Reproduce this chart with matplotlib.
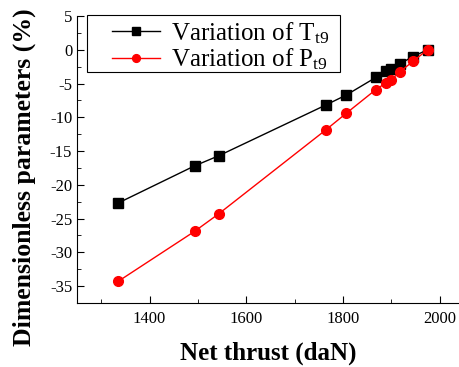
import matplotlib
matplotlib.use("Agg")
import matplotlib.pyplot as plt
from matplotlib.ticker import MultipleLocator
from matplotlib.patches import Rectangle

thrust = [1335, 1493, 1543, 1764, 1807, 1868, 1889, 1899, 1917, 1945, 1975]
var_T = [-22.7, -17.2, -15.7, -8.2, -6.7, -4.1, -3.2, -2.9, -2.1, -1.0, 0.0]
var_P = [-34.3, -26.9, -24.3, -11.9, -9.4, -5.9, -4.9, -4.5, -3.3, -1.7, 0.0]

plt.rcParams['font.family'] = ['Liberation Serif', 'DejaVu Serif']
plt.rcParams['mathtext.fontset'] = 'custom'
plt.rcParams['mathtext.rm'] = 'Liberation Serif'
plt.rcParams['mathtext.it'] = 'Liberation Serif:italic'
plt.rcParams['axes.unicode_minus'] = False

W, H = 459, 367
L, R, T, B = 77, 459, 16, 303
fig = plt.figure(figsize=(W/100, H/100), dpi=100)
ax = fig.add_axes([L/W, 1-B/H, (R-L)/W, (B-T)/H])

def ax_x(px):
    return (px - L) / (R - L)

def ax_y(py):
    return (B - py) / (B - T)

ax.plot(thrust, var_T, color='black', marker='s', markersize=6.5, lw=1,
        label=r'Variation of T$_{\mathregular{t9}}$')
ax.plot(thrust, var_P, color='red', marker='o', markersize=7, lw=1,
        label=r'Variation of P$_{\mathregular{t9}}$')

ax.set_xlim(1250, 2040)
ax.set_ylim(-37.5, 5)
ax.xaxis.set_major_locator(MultipleLocator(200))
ax.xaxis.set_minor_locator(MultipleLocator(100))
ax.yaxis.set_major_locator(MultipleLocator(5))
ax.yaxis.set_minor_locator(MultipleLocator(2.5))
ax.tick_params(which='both', direction='in', labelsize=12, top=False, right=False)
ax.tick_params(which='major', length=5)
ax.tick_params(which='minor', length=3)
ax.tick_params(axis='x', pad=6)
ax.spines['top'].set_visible(False)
ax.spines['right'].set_visible(False)

ax.set_xlabel('Net thrust (daN)', fontsize=18, fontweight='bold', labelpad=10)
ax.set_ylabel('Dimensionless parameters (%)', fontsize=18.5, fontweight='bold')
ax.yaxis.set_label_coords(ax_x(36), ax_y(177))

# legend frame
ax.add_patch(Rectangle((ax_x(87), ax_y(72)), ax_x(340) - ax_x(87), ax_y(15) - ax_y(72),
                       transform=ax.transAxes, facecolor='white', edgecolor='black',
                       lw=0.8, zorder=4, clip_on=False))

leg = ax.legend(loc='upper left', bbox_to_anchor=(ax_x(112), ax_y(20)), fontsize=18,
                frameon=False, borderaxespad=0, borderpad=0,
                handlelength=1.9, labelspacing=0.05, handletextpad=0.45,
                markerscale=0.8)
leg.set_zorder(5)

fig.savefig('out.png', dpi=100)
